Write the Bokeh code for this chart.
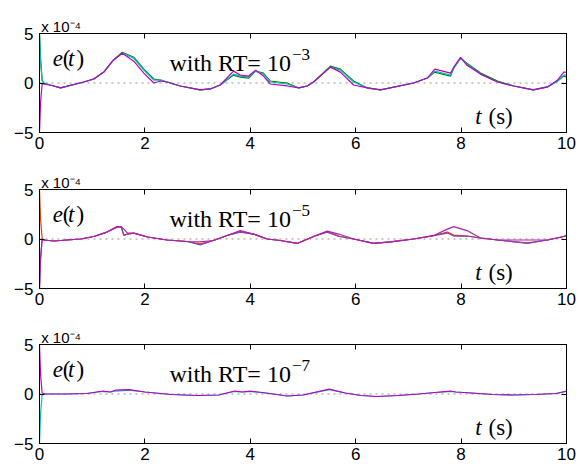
from bokeh.plotting import figure
from bokeh.layouts import column
from bokeh.models import Label, LinearAxis, Range1d, FixedTicker
from bokeh.embed import file_html
from bokeh.resources import INLINE

# ---------------- data (error values in units of 1e-4) ----------------
x_ticks = [0, 2, 4, 6, 8, 10]
y_ticks = [-5, 0, 5]
y_tick_labels = {-5: "\u22125", 0: "0", 5: "5"}
multiplier_text = "x 10\u207b\u2074"
multiplier_pos = [0.41]
rt_exponents = ["\u22123", "\u22125", "\u22127"]
ref_t = [0, 10]
ref_e = [0, 0]

# Panel 1 : RT = 1e-3
t1 = [0, 0.02, 0.05, 0.08, 0.27, 0.4, 0.84, 1.03, 1.22, 1.4, 1.57, 1.79, 1.98, 2.17, 2.3,
      2.42, 2.67, 3.05, 3.24, 3.43, 3.68, 3.81, 3.97, 4.1, 4.25, 4.38, 4.7, 4.92, 5.08, 5.2,
      5.52, 5.71, 5.96, 6.22, 6.47, 7.1, 7.36, 7.5, 7.8, 7.86, 7.99, 8.11, 8.37, 8.69, 9.0,
      9.37, 9.64, 9.83, 9.95, 10]
e1_green = [5, 2.5, 0.3, 0.0, -0.3, -0.5, 0.1, 0.4, 1.1, 2.3, 3.1, 2.6, 1.4, 0.4, 0.3,
            0.1, -0.3, -0.7, -0.6, -0.2, 0.8, 0.6, 0.5, 1.2, 1.0, 0.2, 0.0, -0.5, -0.3, 0.1,
            1.7, 1.4, 0.2, -0.5, -0.7, 0.0, 0.5, 1.1, 0.7, 1.5, 2.5, 2.0, 1.0, 0.2, -0.3,
            -0.7, -0.4, 0.2, 0.7, 0.6]
e1_cyan = [5, 2.2, 0.2, 0.0, -0.3, -0.5, 0.1, 0.4, 1.1, 2.3, 3.0, 2.5, 1.3, 0.3, 0.3,
           0.1, -0.3, -0.7, -0.6, -0.2, 0.9, 0.7, 0.6, 1.2, 0.9, 0.1, -0.1, -0.5, -0.3, 0.1,
           1.6, 1.3, 0.1, -0.5, -0.7, 0.0, 0.5, 1.2, 0.8, 1.5, 2.5, 1.9, 0.9, 0.1, -0.3,
           -0.7, -0.4, 0.2, 0.8, 0.8]
e1_magenta = [-5, -2.0, -0.1, -0.1, -0.3, -0.5, 0.1, 0.4, 1.1, 2.3, 3.0, 2.2, 1.0, 0.0, 0.2,
              0.1, -0.3, -0.7, -0.6, -0.2, 1.2, 0.8, 0.7, 1.3, 0.7, -0.1, -0.3, -0.5, -0.3, 0.1,
              1.6, 1.1, -0.2, -0.5, -0.7, 0.0, 0.5, 1.4, 1.0, 1.6, 2.6, 1.8, 0.9, 0.1, -0.3,
              -0.7, -0.4, 0.3, 1.1, 1.1]

# Panel 2 : RT = 1e-5
t2 = [0, 0.02, 0.05, 0.08, 0.27, 0.78, 1.03, 1.28, 1.47, 1.55, 1.6, 1.67, 1.79, 2.05, 2.42,
      2.8, 3.05, 3.3, 3.56, 3.81, 4.06, 4.32, 4.57, 4.89, 5.2, 5.46, 5.68, 5.96, 6.34, 6.66,
      7.1, 7.48, 7.74, 7.86, 8.11, 8.37, 8.69, 9.26, 9.64, 9.95, 10]
e2_red = [5, 2.0, 0.1, -0.1, -0.2, 0.0, 0.25, 0.7, 1.2, 1.25, 0.4, 0.5, 0.6, 0.2, -0.1,
          -0.25, -0.5, -0.15, 0.35, 0.75, 0.5, 0.0, -0.15, -0.45, 0.25, 0.75, 0.3, 0.0, -0.45, -0.3,
          0.0, 0.35, 0.7, 0.4, 0.3, 0.1, -0.1, -0.4, -0.1, 0.25, 0.35]
e2_smooth = [-5, -2.0, -0.1, -0.1, -0.2, 0.0, 0.25, 0.7, 1.25, 1.25, 1.0, 0.6, 0.6, 0.2, -0.1,
             -0.25, -0.3, -0.15, 0.35, 0.85, 0.5, 0.0, -0.15, -0.45, 0.25, 0.8, 0.5, 0.0, -0.45, -0.3,
             0.0, 0.35, 1.0, 1.25, 0.85, 0.1, -0.1, -0.1, -0.1, 0.25, 0.3]
e2_jagged = [-5, -2.0, 0.0, -0.1, -0.2, 0.0, 0.25, 0.7, 1.2, 1.25, 0.35, 0.5, 0.6, 0.2, -0.1,
             -0.25, -0.6, -0.15, 0.35, 0.7, 0.5, 0.0, -0.15, -0.45, 0.25, 0.7, 0.25, 0.0, -0.45, -0.3,
             0.0, 0.35, 0.6, 0.3, 0.3, 0.1, -0.1, -0.45, -0.1, 0.25, 0.4]

# Panel 3 : RT = 1e-7
t3 = [0, 0.02, 0.05, 0.1, 0.5, 0.9, 1.2, 1.35, 1.45, 1.7, 2.0, 2.5, 3.0, 3.4, 3.7, 3.85,
      4.0, 4.3, 4.7, 5.0, 5.5, 5.8, 6.1, 6.4, 6.8, 7.2, 7.5, 7.8, 7.9, 8.2, 8.6, 9.0, 9.4,
      9.8, 10]
e3_cyan = [-5, -2.0, -0.1, 0.0, 0.0, 0.05, 0.25, 0.2, 0.3, 0.4, 0.2, -0.05, -0.15, -0.1, 0.25, 0.2,
           0.25, 0.1, -0.2, -0.1, 0.45, 0.1, -0.15, -0.25, -0.15, 0.0, 0.15, 0.25, 0.2, 0.1, -0.05, -0.1, -0.05,
           0.05, 0.25]
e3_magenta = [5, 2.0, 0.1, 0.0, 0.0, 0.05, 0.3, 0.2, 0.4, 0.45, 0.2, -0.05, -0.15, -0.1, 0.3, 0.2,
              0.3, 0.1, -0.2, -0.1, 0.5, 0.1, -0.15, -0.25, -0.15, 0.0, 0.15, 0.3, 0.2, 0.1, -0.05, -0.1, -0.05,
              0.05, 0.3]

panels = [
    (t1, [("#008000", e1_green), ("#00bfbf", e1_cyan), ("#bf00bf", e1_magenta)]),
    (t2, [("#e04000", e2_red), ("#8040c0", e2_jagged), ("#b020b0", e2_smooth)]),
    (t3, [("#00bfbf", e3_cyan), ("#bf00bf", e3_magenta)]),
]

SANS = "Liberation Sans"
SERIF = "Liberation Serif"
heights = [163, 156, 150]
borders_top = [33, 26, 25]
borders_bottom = [31, 31, 26]

figs = []
for i, (tt, series) in enumerate(panels):
    p = figure(width=578, height=heights[i], output_backend="svg", toolbar_location=None,
               x_range=Range1d(0, 10), y_range=Range1d(-5, 5),
               min_border_left=39, min_border_right=12,
               min_border_top=borders_top[i], min_border_bottom=borders_bottom[i])
    p.xgrid.visible = False
    p.ygrid.visible = False
    p.outline_line_color = "black"
    p.outline_line_width = 1
    p.background_fill_color = "white"
    p.border_fill_color = "white"

    p.line(ref_t, ref_e, line_color="#c0b8a8", line_width=1.5, line_dash="dotted")
    for color, vals in series:
        p.line(tt, vals, line_color=color, line_width=1.2)

    for ax in (p.xaxis[0], p.yaxis[0]):
        ax.major_tick_in = 5
        ax.major_tick_out = 0
        ax.minor_tick_in = 0
        ax.minor_tick_out = 0
        ax.axis_line_color = "black"
        ax.major_tick_line_color = "black"
        ax.major_label_text_font = SANS
        ax.major_label_text_font_size = "17px"
        ax.major_label_text_color = "black"
    p.xaxis[0].ticker = FixedTicker(ticks=x_ticks)
    p.yaxis[0].ticker = FixedTicker(ticks=y_ticks)
    p.yaxis[0].major_label_overrides = y_tick_labels
    p.xaxis[0].major_label_standoff = 4
    p.yaxis[0].major_label_standoff = 6

    top = LinearAxis(ticker=FixedTicker(ticks=x_ticks),
                     major_label_overrides={t: "" for t in x_ticks},
                     major_label_text_font_size="1px",
                     major_tick_in=5, major_tick_out=0, minor_tick_in=0, minor_tick_out=0,
                     axis_line_color="black", major_label_standoff=0)
    mult = LinearAxis(ticker=FixedTicker(ticks=multiplier_pos),
                      major_label_overrides={multiplier_pos[0]: multiplier_text},
                      major_label_text_font=SANS, major_label_text_font_size="15px",
                      major_label_text_color="black",
                      major_tick_in=0, major_tick_out=0, minor_tick_in=0, minor_tick_out=0,
                      axis_line_color=None, major_label_standoff=-1)
    right = LinearAxis(ticker=FixedTicker(ticks=y_ticks),
                       major_label_overrides={t: "" for t in y_ticks},
                       major_label_text_font_size="1px",
                       major_tick_in=5, major_tick_out=0, minor_tick_in=0, minor_tick_out=0,
                       axis_line_color="black", major_label_standoff=0)
    p.add_layout(top, "above")
    p.add_layout(mult, "above")
    p.add_layout(right, "right")

    def lab(x, y, text, font, size, style="normal", align="left"):
        p.add_layout(Label(x=x, y=y, text=text, text_font=font, text_font_size=size,
                           text_font_style=style, text_color="black",
                           text_baseline="alphabetic", text_align=align))

    # e(t)
    lab(0.25, 2.45, "e", SERIF, "23px", "italic")
    lab(0.44, 2.45, "(", SERIF, "23px")
    lab(0.54, 2.45, "t", SERIF, "23px", "italic")
    lab(0.70, 2.45, ")", SERIF, "23px")
    # with RT= 10^-k  (main text right-aligned where the exponent starts)
    lab(4.77, 2.05, "with RT= 10", SERIF, "24px", align="right")
    lab(4.79, 2.9, rt_exponents[i], SERIF, "17px")
    # t (s)
    lab(8.27, -3.43, "t", SERIF, "23px", "italic")
    lab(8.52, -3.43, "(s)", SERIF, "23px")

    figs.append(p)

layout = column(*figs, spacing=0)
open("out.html", "w").write(file_html(layout, INLINE))
